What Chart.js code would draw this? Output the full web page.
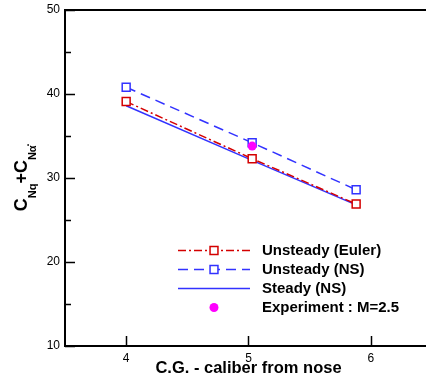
<!DOCTYPE html>
<html lang="en">
<head>
<meta charset="UTF-8" />
<title>CNq + CNa vs C.G. location</title>
<script src="https://cdn.jsdelivr.net/npm/chart.js"></script>
<style>
  html, body { margin: 0; padding: 0; background: #fff; }
  canvas { display: block; }
</style>
</head>
<body>
<canvas id="cgChart" width="426" height="382"></canvas>
<script>
// C.G. positions (calibers from nose) and damping derivative sums
const cgEuler = [4.0, 5.03, 5.88];
const unsteadyEuler = [39.1, 32.3, 26.9];
const cgNS = [4.0, 5.03, 5.88];
const unsteadyNS = [40.8, 34.2, 28.6];
const cgSteady = [4.0, 5.03, 5.88];
const steadyNS = [38.6, 32.1, 26.8];
const cgExp = [5.03];
const experiment = [33.8];

const xTicks = [4, 5, 6];
const yTicks = [10, 20, 30, 40, 50];
const yMinor = [15, 25, 35, 45];

const RED = '#d40000';
const BLUE = '#3232ff';
const FONT = '"Liberation Sans", Arial, sans-serif';

const pts = (xs, ys) => xs.map((x, i) => ({ x: x, y: ys[i] }));

// frame lines running to the canvas edge, inward ticks, x title
const frame = {
  id: 'frame',
  afterDraw(chart) {
    const { ctx, chartArea: a, scales: { x, y } } = chart;
    ctx.save();
    ctx.strokeStyle = '#000';
    ctx.lineWidth = 2;
    ctx.beginPath();
    ctx.moveTo(a.left - 1, a.top);
    ctx.lineTo(chart.width, a.top);
    ctx.moveTo(a.left - 1, a.bottom);
    ctx.lineTo(chart.width, a.bottom);
    ctx.stroke();
    ctx.lineWidth = 1.5;
    ctx.beginPath();
    yTicks.forEach(v => {
      const py = Math.round(y.getPixelForValue(v)) + 0.5;
      ctx.moveTo(a.left, py); ctx.lineTo(a.left + 10, py);
    });
    yMinor.forEach(v => {
      const py = Math.round(y.getPixelForValue(v)) + 0.5;
      ctx.moveTo(a.left, py); ctx.lineTo(a.left + 6, py);
    });
    xTicks.forEach(v => {
      const px = Math.round(x.getPixelForValue(v)) + 0.5;
      ctx.moveTo(px, a.bottom); ctx.lineTo(px, a.bottom - 10);
    });
    ctx.stroke();
    ctx.fillStyle = '#000';
    ctx.font = 'bold 16.5px ' + FONT;
    ctx.textAlign = 'center';
    ctx.textBaseline = 'middle';
    ctx.fillText('C.G. - caliber from nose', x.getPixelForValue(5), 368);
    ctx.restore();
  }
};

// legend with line samples and centred markers
const lineLegend = {
  id: 'lineLegend',
  afterDraw(chart) {
    const ctx = chart.ctx;
    const x0 = 178, x1 = 250, tx = 262;
    const mid = (x0 + x1) / 2;
    let yy = 250.5;
    ctx.save();
    chart.data.datasets.forEach(ds => {
      if (ds.showLine !== false) {
        ctx.strokeStyle = ds.borderColor;
        ctx.lineWidth = ds.borderWidth;
        ctx.setLineDash(ds.borderDash || []);
        ctx.beginPath();
        ctx.moveTo(x0, yy); ctx.lineTo(x1, yy);
        ctx.stroke();
        ctx.setLineDash([]);
      }
      if (ds.pointRadius > 0) {
        ctx.fillStyle = ds.pointBackgroundColor;
        ctx.strokeStyle = ds.pointBorderColor;
        ctx.lineWidth = ds.pointBorderWidth || 1.5;
        ctx.beginPath();
        if (ds.pointStyle === 'rect') {
          const s = ds.pointRadius * Math.SQRT1_2;
          ctx.rect(mid - s, yy - s, 2 * s, 2 * s);
          ctx.fill(); ctx.stroke();
        } else {
          ctx.arc(mid, yy, ds.pointRadius, 0, Math.PI * 2);
          ctx.fill();
        }
      }
      ctx.fillStyle = '#000';
      ctx.font = 'bold 15px ' + FONT;
      ctx.textBaseline = 'middle';
      ctx.textAlign = 'left';
      ctx.fillText(ds.label, tx, yy);
      yy += 19;
    });
    ctx.restore();
  }
};

// rotated y-axis title with subscripts
const yTitle = {
  id: 'yTitle',
  afterDraw(chart) {
    const ctx = chart.ctx;
    const big = 'bold 18px ' + FONT;
    const sub = 'bold 11px ' + FONT;
    const parts = [
      ['C', big, 0, 0], ['Nq', sub, 9, 0], ['+', big, 0, 0],
      ['C', big, 0, 0], ['N\u03b1', sub, 9, 0], ['\u00b7', sub, 5, -1]
    ];
    ctx.save();
    let w = 0;
    parts.forEach(p => { ctx.font = p[1]; w += ctx.measureText(p[0]).width + p[3]; });
    ctx.translate(27, 177);
    ctx.rotate(-Math.PI / 2);
    ctx.fillStyle = '#000';
    ctx.textBaseline = 'alphabetic';
    let cx = -w / 2;
    parts.forEach(p => {
      ctx.font = p[1];
      cx += p[3];
      ctx.fillText(p[0], cx, p[2]);
      cx += ctx.measureText(p[0]).width;
    });
    ctx.restore();
  }
};

new Chart(document.getElementById('cgChart'), {
  type: 'scatter',
  data: {
    datasets: [
      {
        label: 'Unsteady (Euler)',
        data: pts(cgEuler, unsteadyEuler),
        showLine: true,
        borderColor: RED,
        borderWidth: 1.5,
        borderDash: [8, 3, 2, 3],
        pointStyle: 'rect',
        pointRadius: 5.6,
        pointBorderWidth: 1.5,
        pointBorderColor: RED,
        pointBackgroundColor: '#fff'
      },
      {
        label: 'Unsteady (NS)',
        data: pts(cgNS, unsteadyNS),
        showLine: true,
        borderColor: BLUE,
        borderWidth: 1.5,
        borderDash: [10, 6],
        pointStyle: 'rect',
        pointRadius: 5.6,
        pointBorderWidth: 1.5,
        pointBorderColor: BLUE,
        pointBackgroundColor: '#fff'
      },
      {
        label: 'Steady (NS)',
        data: pts(cgSteady, steadyNS),
        showLine: true,
        borderColor: BLUE,
        borderWidth: 1.5,
        pointRadius: 0
      },
      {
        label: 'Experiment : M=2.5',
        data: pts(cgExp, experiment),
        showLine: false,
        order: -1,
        pointStyle: 'circle',
        pointRadius: 4.5,
        pointBorderWidth: 0,
        pointBorderColor: '#ff00ff',
        pointBackgroundColor: '#ff00ff'
      }
    ]
  },
  options: {
    responsive: false,
    animation: false,
    layout: { padding: { top: 10, right: 0, left: 0, bottom: 0 } },
    plugins: { legend: { display: false }, tooltip: { enabled: false } },
    scales: {
      x: {
        type: 'linear',
        min: 3.5,
        max: 6.393,
        afterBuildTicks: s => { s.ticks = xTicks.map(v => ({ value: v })); },
        afterFit: s => { s.height = 36; s.paddingLeft = 0; s.paddingRight = 0; },
        grid: { display: false, drawTicks: false },
        border: { display: false },
        ticks: {
          color: '#000',
          padding: 5,
          maxRotation: 0,
          font: { family: FONT, size: 12 }
        },
        title: { display: false }
      },
      y: {
        type: 'linear',
        min: 10,
        max: 50,
        afterBuildTicks: s => { s.ticks = yTicks.map(v => ({ value: v })); },
        afterFit: s => { s.width = 65; s.paddingTop = 0; s.paddingBottom = 0; },
        grid: { display: false, drawTicks: false },
        border: { display: true, color: '#000', width: 2 },
        ticks: {
          color: '#000',
          padding: 5,
          font: { family: FONT, size: 12 }
        }
      }
    }
  },
  plugins: [frame, lineLegend, yTitle]
});
</script>
</body>
</html>
